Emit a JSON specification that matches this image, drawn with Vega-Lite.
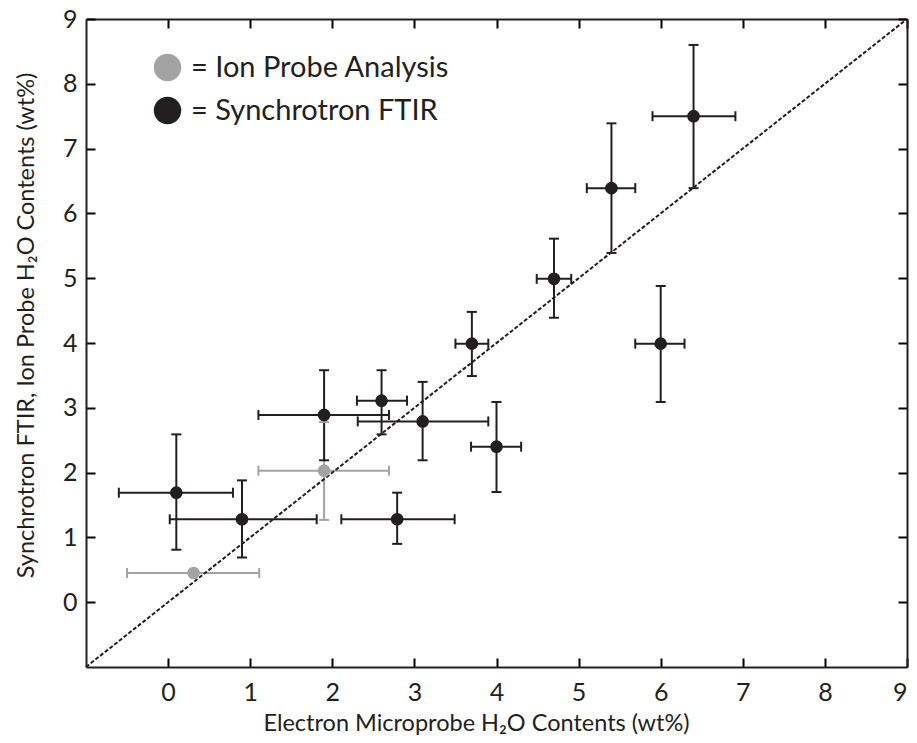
{
  "$schema": "https://vega.github.io/schema/vega-lite/v6.json",
  "autosize": "none",
  "width": 821,
  "height": 648,
  "padding": {"left": 86, "top": 19, "right": 10, "bottom": 76},
  "background": "white",
  "datasets": {
    "pts": [
      {"series": "Ion Probe Analysis", "x": 0.31, "y": 0.45, "xlo": -0.50, "xhi": 1.11},
      {"series": "Ion Probe Analysis", "x": 1.90, "y": 2.03, "xlo": 1.10, "xhi": 2.69, "ylo": 1.27, "yhi": 2.78},
      {"series": "Synchrotron FTIR", "x": 0.10, "y": 1.69, "xlo": -0.60, "xhi": 0.79, "ylo": 0.81, "yhi": 2.59},
      {"series": "Synchrotron FTIR", "x": 0.90, "y": 1.28, "xlo": 0.02, "xhi": 1.81, "ylo": 0.69, "yhi": 1.88},
      {"series": "Synchrotron FTIR", "x": 1.90, "y": 2.89, "xlo": 1.10, "xhi": 2.69, "ylo": 2.19, "yhi": 3.58},
      {"series": "Synchrotron FTIR", "x": 2.60, "y": 3.11, "xlo": 2.30, "xhi": 2.91, "ylo": 2.59, "yhi": 3.58},
      {"series": "Synchrotron FTIR", "x": 3.10, "y": 2.79, "xlo": 2.31, "xhi": 3.90, "ylo": 2.19, "yhi": 3.40},
      {"series": "Synchrotron FTIR", "x": 2.79, "y": 1.28, "xlo": 2.11, "xhi": 3.49, "ylo": 0.90, "yhi": 1.69},
      {"series": "Synchrotron FTIR", "x": 3.70, "y": 3.99, "xlo": 3.50, "xhi": 3.90, "ylo": 3.49, "yhi": 4.48},
      {"series": "Synchrotron FTIR", "x": 4.00, "y": 2.40, "xlo": 3.69, "xhi": 4.30, "ylo": 1.70, "yhi": 3.09},
      {"series": "Synchrotron FTIR", "x": 4.70, "y": 4.99, "xlo": 4.49, "xhi": 4.91, "ylo": 4.39, "yhi": 5.61},
      {"series": "Synchrotron FTIR", "x": 5.40, "y": 6.39, "xlo": 5.10, "xhi": 5.69, "ylo": 5.39, "yhi": 7.39},
      {"series": "Synchrotron FTIR", "x": 6.00, "y": 3.99, "xlo": 5.69, "xhi": 6.29, "ylo": 3.09, "yhi": 4.88},
      {"series": "Synchrotron FTIR", "x": 6.40, "y": 7.50, "xlo": 5.90, "xhi": 6.91, "ylo": 6.39, "yhi": 8.60}
    ],
    "diag": [{"x": -1, "y": -1}, {"x": 9, "y": 9}]
  },
  "config": {
    "view": {"stroke": null},
    "font": "Lato",
    "axis": {
      "grid": false,
      "domainColor": "#231f20",
      "domainWidth": 2,
      "labelFont": "Lato",
      "labelFontSize": 25,
      "labelColor": "#231f20",
      "titleFont": "Lato",
      "titleFontSize": 23.5,
      "titleFontWeight": "normal",
      "titleColor": "#231f20"
    }
  },
  "resolve": {"axis": {"x": "independent", "y": "independent"}, "legend": {"color": "independent"}},
  "layer": [
    {
      "data": {"name": "pts"},
      "mark": {"type": "rule", "strokeWidth": 2},
      "encoding": {
        "x": {"field": "xlo", "type": "quantitative", "scale": {"domain": [-1, 9], "nice": false, "zero": false},
              "axis": {"orient": "top", "labels": false, "title": null, "values": [0,1,2,3,4,5,6,7,8,9],
                       "ticks": true, "tickSize": -9, "tickWidth": 2, "tickColor": "black", "tickOpacity": 1}},
        "x2": {"field": "xhi"},
        "y": {"field": "y", "type": "quantitative", "scale": {"domain": [-1, 9], "nice": false, "zero": false},
              "axis": {"orient": "right", "labels": false, "title": null, "values": [0,1,2,3,4,5,6,7,8,9],
                       "ticks": true, "tickSize": -9, "tickWidth": 2, "tickColor": "black", "tickOpacity": 1}},
        "color": {"field": "series", "type": "nominal", "legend": null,
                  "scale": {"domain": ["Ion Probe Analysis", "Synchrotron FTIR"], "range": ["#a3a3a3", "#231f20"]}}
      }
    },
    {
      "data": {"name": "pts"},
      "mark": {"type": "rule", "strokeWidth": 2},
      "encoding": {
        "x": {"field": "x", "type": "quantitative", "axis": null},
        "y": {"field": "ylo", "type": "quantitative", "axis": null},
        "y2": {"field": "yhi"},
        "color": {"field": "series", "type": "nominal", "legend": null}
      }
    },
    {
      "data": {"name": "pts"},
      "mark": {"type": "point", "shape": "M0,-1L0,1", "size": 100, "filled": false, "strokeWidth": 2, "opacity": 1},
      "encoding": {
        "x": {"field": "xlo", "type": "quantitative", "axis": null},
        "y": {"field": "y", "type": "quantitative", "axis": null},
        "color": {"field": "series", "type": "nominal", "legend": null}
      }
    },
    {
      "data": {"name": "pts"},
      "mark": {"type": "point", "shape": "M0,-1L0,1", "size": 100, "filled": false, "strokeWidth": 2, "opacity": 1},
      "encoding": {
        "x": {"field": "xhi", "type": "quantitative", "axis": null},
        "y": {"field": "y", "type": "quantitative", "axis": null},
        "color": {"field": "series", "type": "nominal", "legend": null}
      }
    },
    {
      "data": {"name": "pts"},
      "mark": {"type": "point", "shape": "M-1,0L1,0", "size": 100, "filled": false, "strokeWidth": 2, "opacity": 1},
      "encoding": {
        "x": {"field": "x", "type": "quantitative", "axis": null},
        "y": {"field": "ylo", "type": "quantitative", "axis": null},
        "color": {"field": "series", "type": "nominal", "legend": null}
      }
    },
    {
      "data": {"name": "pts"},
      "mark": {"type": "point", "shape": "M-1,0L1,0", "size": 100, "filled": false, "strokeWidth": 2, "opacity": 1},
      "encoding": {
        "x": {"field": "x", "type": "quantitative", "axis": null},
        "y": {"field": "yhi", "type": "quantitative", "axis": null},
        "color": {"field": "series", "type": "nominal", "legend": null}
      }
    },
    {
      "data": {"name": "diag"},
      "mark": {"type": "line", "color": "#231f20", "strokeWidth": 2, "strokeDash": [4, 2]},
      "encoding": {
        "x": {"field": "x", "type": "quantitative",
              "axis": {"orient": "bottom", "values": [0,1,2,3,4,5,6,7,8,9], "labelPadding": 22,
                       "ticks": true, "tickSize": -9, "tickWidth": 2, "tickColor": "black", "tickOpacity": 1,
                       "title": "Electron Microprobe H₂O Contents (wt%)",
                       "titleX": 390, "titleY": 63, "titleAlign": "center", "titleBaseline": "alphabetic"}},
        "y": {"field": "y", "type": "quantitative",
              "axis": {"orient": "left", "values": [0,1,2,3,4,5,6,7,8,9], "labelPadding": 18,
                       "ticks": true, "tickSize": -9, "tickWidth": 2, "tickColor": "black", "tickOpacity": 1,
                       "title": "Synchrotron FTIR, Ion Probe H₂O Contents (wt%)",
                       "titleX": -53, "titleY": 306, "titleAngle": -90, "titleAlign": "center", "titleBaseline": "alphabetic"}}
      }
    },
    {
      "data": {"name": "pts"},
      "mark": {"type": "point", "filled": true, "shape": "circle", "size": 160, "opacity": 1},
      "encoding": {
        "x": {"field": "x", "type": "quantitative", "axis": null},
        "y": {"field": "y", "type": "quantitative", "axis": null},
        "color": {"field": "series", "type": "nominal",
                  "legend": {"orient": "none", "legendX": 67, "legendY": 34, "title": null,
                             "symbolSize": 750, "symbolType": "circle", "symbolStrokeWidth": 0,
                             "labelFont": "Lato", "labelFontSize": 29, "labelColor": "#231f20",
                             "labelLimit": 0, "labelOffset": 9, "rowPadding": 13, "padding": 0,
                             "labelExpr": "'= ' + datum.label"}}
      }
    }
  ]
}
